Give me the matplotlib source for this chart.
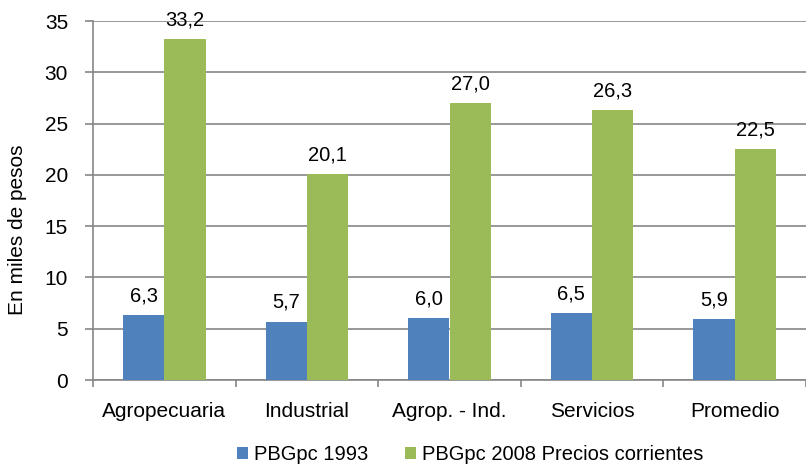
import matplotlib.pyplot as plt
import numpy as np

plt.rcParams['font.family'] = ['Liberation Sans', 'DejaVu Sans']

# Data
categories = ["Agropecuaria", "Industrial", "Agrop. - Ind.", "Servicios", "Promedio"]
pbg_1993 = [6.3, 5.7, 6.0, 6.5, 5.9]
pbg_2008 = [33.2, 20.1, 27.0, 26.3, 22.5]
series_names = ["PBGpc 1993", "PBGpc 2008 Precios corrientes"]

blue = '#4F81BD'
green = '#9BBB59'
grid_col = '#868686'

fig = plt.figure(figsize=(8.06, 4.66), dpi=100)
ax = fig.add_axes([93 / 806, 1 - 380 / 466, 1 - 93 / 806, 359 / 466])

x = np.arange(len(categories))
width = 0.29

bars1 = ax.bar(x - width / 2, pbg_1993, width, color=blue, label=series_names[0], zorder=3)
bars2 = ax.bar(x + width / 2, pbg_2008, width, color=green, label=series_names[1], zorder=3)

ax.set_ylim(0, 35)
ax.set_yticks(np.arange(0, 36, 5))
ax.set_xlim(-0.5, 4.5 - 7 / 144)
ax.set_xticks(x)
ax.set_xticklabels(categories, fontsize=15)
ax.tick_params(axis='x', length=0, pad=16)
ax.set_xticks(np.arange(-0.5, 5, 1), minor=True)
ax.tick_params(axis='x', which='minor', length=5, color=grid_col, width=1.2)
ax.tick_params(axis='y', labelsize=15, length=6, color=grid_col, width=1.2, pad=12)

ax.grid(axis='y', color=grid_col, linewidth=1.2, zorder=0)
for side in ['top', 'right']:
    ax.spines[side].set_visible(False)
for side in ['left', 'bottom']:
    ax.spines[side].set_color(grid_col)
    ax.spines[side].set_linewidth(1.2)

ax.set_ylabel('En miles de pesos', fontsize=15)
ax.yaxis.set_label_coords((18 - 93) / 713, (380 - 230) / 359)
ax.yaxis.label.set_va('center')


def add_labels(bars):
    for bar in bars:
        h = bar.get_height()
        ax.annotate(f'{h:.1f}'.replace('.', ','),
                    xy=(bar.get_x() + bar.get_width() / 2, h),
                    xytext=(0, 7), textcoords='offset points',
                    ha='center', va='bottom', fontsize=14.5)


add_labels(bars1)
add_labels(bars2)

fig.legend(handles=[bars1, bars2], labels=series_names, loc='center',
           bbox_to_anchor=(470 / 806, 1 - 455 / 466), ncol=2, frameon=False,
           fontsize=14.5, handlelength=0.55, handleheight=0.55, handletextpad=0.3,
           columnspacing=1.8)

fig.savefig('out.png', dpi=100)
